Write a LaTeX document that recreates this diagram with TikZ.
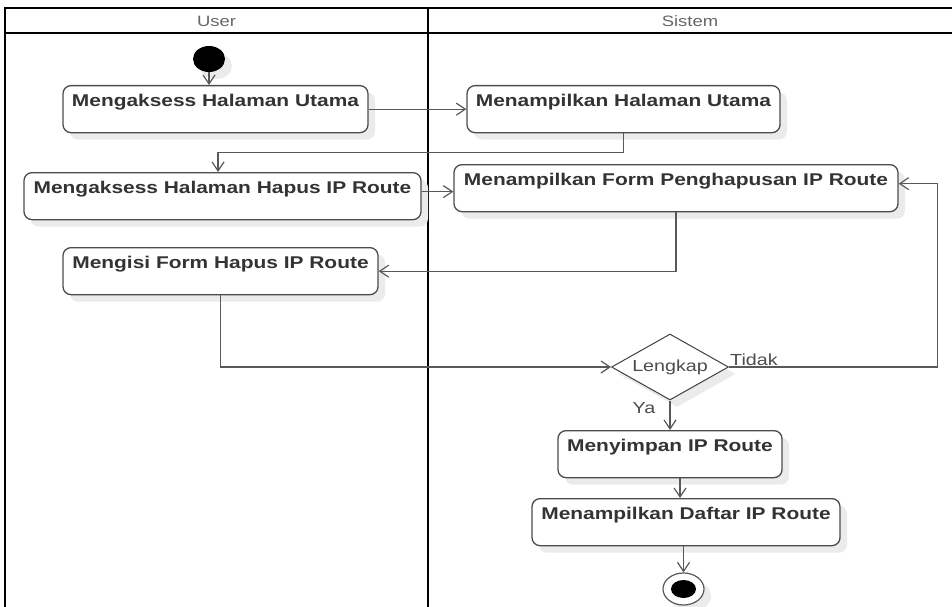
\documentclass[tikz,border=0pt]{standalone}
\usepackage{fontspec}
\setmainfont{Liberation Sans}[FakeStretch=1.23]
\usetikzlibrary{arrows.meta,shapes.geometric,calc,shadows}
\begin{document}
\begin{tikzpicture}[x=1pt,y=-1pt,
  lane/.style={line width=2.2pt, draw=black},
  shd/.style={drop shadow={shadow xshift=7pt, shadow yshift=-7pt, fill=black!8, opacity=1}},
  act/.style={draw=black!70, line width=1.3pt, rounded corners=8pt, fill=white,
    font=\fontsize{17}{17}\selectfont\bfseries, text=black!80,
    inner xsep=0pt, inner ysep=0pt, text height=21pt, text depth=26pt, anchor=north, shd},
  flow/.style={draw=black!65, line width=1.2pt, -{Straight Barb[length=9pt,width=12pt]}},
  lbl/.style={font=\fontsize{16}{16}\selectfont, text=black!70, inner sep=0pt},
  hdr/.style={font=\fontsize{15}{15}\selectfont, text=black!60, inner sep=0pt}]
\useasboundingbox (0,0) rectangle (952,607);
% swimlanes
\draw[lane] (5,607) -- (5,8) -- (952,8);
\draw[lane] (5,33) -- (952,33);
\draw[lane] (428,8) -- (428,607);
\node[hdr] (user) at (216.5,21) {User};
\node[hdr] (sistem) at (690,21) {Sistem};
% nodes
\node[ellipse, fill=black, minimum width=32pt, minimum height=26pt, inner sep=0pt, shd] (st) at (209,59) {};
\node[act, minimum width=305pt] (a1) at (215.5,85) {Mengaksess Halaman Utama};
\node[act, minimum width=313pt] (s1) at (623.5,85) {Menampilkan Halaman Utama};
\node[act, minimum width=397pt] (a2) at (222.5,172) {Mengaksess Halaman Hapus IP Route};
\node[act, minimum width=444pt] (s2) at (676,164) {Menampilkan Form Penghapusan IP Route};
\node[act, minimum width=315pt] (a3) at (220.5,247) {Mengisi Form Hapus IP Route};
\node[diamond, draw=black!75, line width=1pt, fill=white, minimum width=117pt, minimum height=66pt, aspect=1.77, lbl, shd] (d) at (670,367) {Lengkap};
\node[act, minimum width=224pt] (s3) at (670,430) {Menyimpan IP Route};
\node[act, minimum width=308pt] (s4) at (686,498) {Menampilkan Daftar IP Route};
\node[ellipse, draw=black!65, line width=1.2pt, fill=white, minimum width=41pt, minimum height=32pt, inner sep=0pt, shd] (en) at (683.5,589) {};
\node[ellipse, fill=black, minimum width=25pt, minimum height=18pt, inner sep=0pt] (enin) at (en.center) {};
% labels
\node[lbl, anchor=south west] (tidak) at ([xshift=1pt,yshift=1pt]d.east) {Tidak};
\node[lbl] (ya) at (644,408) {Ya};
% connectors
\draw[flow] (st.south) -- (st.south |- a1.north);
\draw[flow] (a1.east) -- (s1.west);
\draw[flow] (s1.south) -- ++(0,19) -| ([xshift=-4.5pt]a2.north);
\coordinate (p2) at ([yshift=4.5pt]a2.east);
\draw[flow] (p2) -- (p2 -| s2.west);
\draw[flow] (s2.south) |- (a3.east);
\draw[flow] (a3.south) |- (d.west);
\draw[flow] (d.east) -| ([xshift=39pt,yshift=4.5pt]s2.east) -- ([yshift=4.5pt]s2.east);
\draw[flow] (d.south) -- (s3.north);
\draw[flow] ([xshift=10pt]s3.south) -- ([xshift=10pt]s3.south |- s4.north);
\draw[flow] (s4.south -| en.north) -- (en.north);
\end{tikzpicture}
\end{document}
